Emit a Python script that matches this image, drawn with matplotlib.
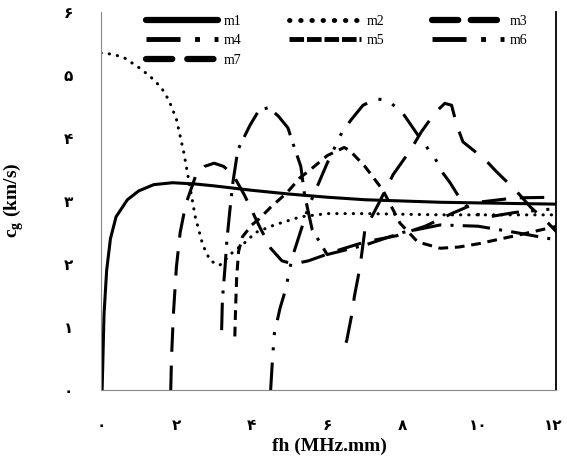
import matplotlib
matplotlib.use("Agg")
import matplotlib.pyplot as plt
from matplotlib.lines import Line2D

# group velocity curves (fh in MHz.mm, cg in km/s)
m1_x = [0.03, 0.08, 0.15, 0.25, 0.4, 0.7, 1.0, 1.4, 1.9, 2.5, 3.0, 4.0, 5.0, 6.0, 7.0, 8.0, 9.0, 10.0, 11.0, 12.1]
m1_y = [0.0, 1.2, 1.9, 2.4, 2.75, 3.02, 3.16, 3.26, 3.29, 3.27, 3.24, 3.17, 3.11, 3.06, 3.02, 3.0, 2.98, 2.97, 2.96, 2.95]

m2_x = [0.0, 0.3, 0.6, 1.0, 1.3, 1.6, 1.8, 2.0, 2.2, 2.36, 2.5, 2.7, 2.9, 3.15, 3.5, 3.8, 4.1, 4.6, 5.3, 6.0, 7.0, 8.0, 9.0, 10.0, 11.0, 12.1]
m2_y = [5.35, 5.33, 5.28, 5.12, 4.98, 4.8, 4.6, 4.3, 3.76, 3.22, 2.75, 2.3, 2.05, 1.98, 2.19, 2.33, 2.5, 2.62, 2.75, 2.8, 2.8, 2.79, 2.78, 2.78, 2.78, 2.78]

m3_x = [1.85, 1.87, 1.92, 2.0, 2.1, 2.25, 2.5, 2.75, 3.0, 3.25, 3.5, 3.8, 4.2, 4.5, 4.8, 5.1, 5.5, 6.3, 7.0, 7.85, 8.6, 9.3, 10.0, 11.0, 12.1]
m3_y = [0.0, 0.5, 1.2, 1.95, 2.5, 2.95, 3.38, 3.55, 3.6, 3.55, 3.42, 3.1, 2.6, 2.25, 2.05, 2.0, 2.05, 2.22, 2.35, 2.45, 2.6, 2.8, 2.98, 3.05, 3.06]

m4_x = [3.2, 3.22, 3.29, 3.34, 3.42, 3.5, 3.63, 3.95, 4.2, 4.45, 4.7, 4.96, 5.1, 5.3, 5.4, 5.6, 6.0, 7.0, 8.0, 9.0, 10.0, 11.0, 12.1]
m4_y = [0.95, 1.43, 1.95, 2.38, 2.86, 3.3, 3.81, 4.2, 4.45, 4.48, 4.35, 4.16, 3.9, 3.55, 3.1, 2.55, 2.15, 2.3, 2.5, 2.62, 2.6, 2.5, 2.38]

m5_x = [3.55, 3.57, 3.6, 3.65, 3.75, 4.0, 4.2, 4.5, 4.93, 5.28, 5.54, 6.0, 6.45, 6.6, 7.0, 7.48, 7.93, 8.4, 9.0, 9.5, 10.0, 11.0, 12.1]
m5_y = [0.85, 1.3, 1.8, 2.2, 2.43, 2.62, 2.72, 2.9, 3.13, 3.37, 3.49, 3.72, 3.85, 3.8, 3.55, 3.17, 2.65, 2.35, 2.25, 2.27, 2.32, 2.45, 2.6]

m6_x = [4.5, 4.55, 4.6, 4.75, 4.9, 5.0, 5.07, 5.5, 6.0, 6.4, 6.65, 6.95, 7.3, 7.6, 8.0, 8.46, 8.86, 9.05, 9.26, 9.5, 9.87, 10.3, 11.0, 12.1]
m6_y = [0.0, 0.5, 0.9, 1.3, 1.6, 1.9, 2.1, 2.9, 3.6, 4.1, 4.3, 4.52, 4.62, 4.6, 4.4, 4.0, 3.68, 3.46, 3.29, 3.06, 2.8, 2.75, 2.82, 2.88]

m7_x = [6.5, 6.52, 6.66, 6.72, 6.87, 7.0, 7.4, 7.75, 8.2, 8.5, 8.86, 9.12, 9.3, 9.44, 9.6, 10.2, 10.5, 11.0, 11.4, 11.86, 12.1]
m7_y = [0.75, 0.79, 1.22, 1.48, 1.95, 2.54, 3.0, 3.42, 3.8, 4.1, 4.4, 4.55, 4.52, 4.2, 3.94, 3.65, 3.46, 3.17, 2.9, 2.65, 2.5]

labels = ["m1", "m2", "m3", "m4", "m5", "m6", "m7"]
xticks = [0, 2, 4, 6, 8, 10, 12]
yticks = [0, 1, 2, 3, 4, 5, 6]

fa = str.maketrans("0123456789", "\u06f0\u06f1\u06f2\u06f3\u06f4\u06f5\u06f6\u06f7\u06f8\u06f9")

plt.rcParams["mathtext.fontset"] = "custom"
plt.rcParams["mathtext.rm"] = "Liberation Serif:bold"

fig = plt.figure(figsize=(5.67, 4.69), dpi=100)
ax = fig.add_axes([101 / 567, 79 / 469, 455 / 567, 378 / 469])

styles = [
    dict(ls="-"),
    dict(dashes=(0.1, 2.6), dash_capstyle="round"),
    dict(dashes=(8, 4.5)),
    dict(dashes=(9, 3, 1, 3)),
    dict(dashes=(3.2, 2.2)),
    dict(dashes=(9, 4, 1, 4, 1, 4)),
    dict(dashes=(9, 5)),
]
series = [(m1_x, m1_y), (m2_x, m2_y), (m3_x, m3_y), (m4_x, m4_y),
          (m5_x, m5_y), (m6_x, m6_y), (m7_x, m7_y)]

for (xs, ys), st in zip(series, styles):
    ax.plot(xs, ys, color="black", lw=2.2, **st)

ax.set_xlim(0, 12.07)
ax.set_ylim(0, 6)
ax.set_xticks(xticks)
ax.set_yticks(yticks)
ax.set_xticklabels([str(t).translate(fa) for t in xticks], fontsize=11, fontweight="bold", family="DejaVu Sans")
ax.set_yticklabels([str(t).translate(fa) for t in yticks], fontsize=11, fontweight="bold", family="DejaVu Sans")
ax.tick_params(length=0)
ax.tick_params(axis="x", pad=20)
ax.tick_params(axis="y", pad=20)

ax.spines["top"].set_visible(False)
ax.spines["left"].set_color("#888888")
ax.spines["bottom"].set_color("#888888")
ax.spines["right"].set_color("black")
ax.spines["right"].set_linewidth(1.3)

ax.set_xlabel("fh (MHz.mm)", family="Liberation Serif", fontweight="bold", fontsize=14)
ax.set_ylabel("c$_\\mathrm{g}$ (km/s)", family="Liberation Serif", fontweight="bold", fontsize=14)
ax.xaxis.set_label_coords(0.503, -0.125)
ax.yaxis.set_label_coords(-0.165, 0.503)

# legend handles, drawn bolder than the curves as in the original
handles = [
    Line2D([], [], color="black", lw=4.5, solid_capstyle="round"),
    Line2D([], [], color="black", lw=3.5, dashes=(0.1, 2.2), dash_capstyle="round"),
    Line2D([], [], color="black", lw=4.5, dashes=(4.2, 2.0), dash_capstyle="round"),
    Line2D([], [], color="black", lw=3.5, dashes=(7, 3, 1, 3)),
    Line2D([], [], color="black", lw=3.5, dashes=(3, 0.6)),
    Line2D([], [], color="black", lw=3.5, dashes=(7, 3, 1, 3, 1, 3)),
    Line2D([], [], color="black", lw=4.5, dashes=(4.2, 2.4), dash_capstyle="round"),
]
# matplotlib fills legend columns first; reorder so rows read m1 m2 m3 / m4 m5 m6 / m7
order = [0, 3, 6, 1, 4, 2, 5]
fig.legend([handles[i] for i in order], [labels[i] for i in order], ncol=3, loc="upper left",
           bbox_to_anchor=(146 / 567, 1 - 15 / 469), frameon=False,
           prop={"family": "Liberation Serif", "size": 10},
           handlelength=5.2, handletextpad=0.4, columnspacing=3.4,
           labelspacing=0.45, borderpad=0, borderaxespad=0)

fig.savefig("out.png", dpi=100)
plt.close(fig)
